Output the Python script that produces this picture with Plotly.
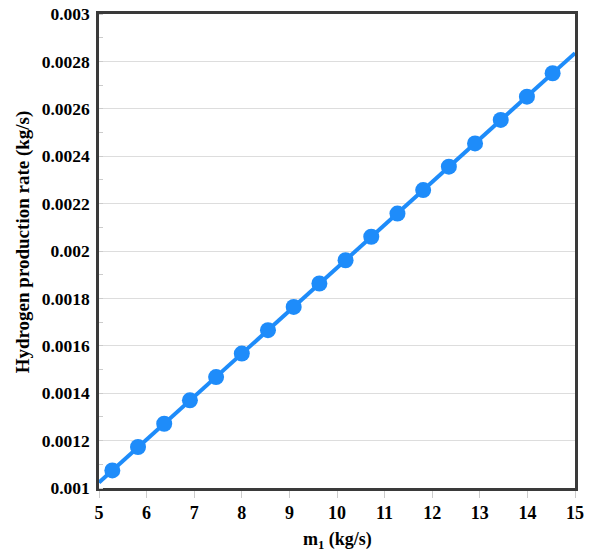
import plotly.graph_objects as go

# Mass flow rate m1 (kg/s) at the computed points
m1 = [5.28, 5.82, 6.37, 6.91, 7.46, 8.00, 8.55, 9.09, 9.63,
      10.18, 10.72, 11.27, 11.81, 12.35, 12.90, 13.44, 13.99, 14.53]
# Hydrogen production rate (kg/s)
h2_rate = [0.001074, 0.001173, 0.001271, 0.001370, 0.001468, 0.001567,
           0.001666, 0.001764, 0.001863, 0.001961, 0.002060, 0.002158,
           0.002257, 0.002356, 0.002454, 0.002553, 0.002651, 0.002750]
# Linear trend across the full m1 range
trend_x = [5, 15]
trend_y = [0.001023, 0.002835]

x_ticks = [5, 6, 7, 8, 9, 10, 11, 12, 13, 14, 15]
y_ticks = [0.001, 0.0012, 0.0014, 0.0016, 0.0018, 0.002,
           0.0022, 0.0024, 0.0026, 0.0028, 0.003]
y_labels = ["0.001", "0.0012", "0.0014", "0.0016", "0.0018", "0.002",
            "0.0022", "0.0024", "0.0026", "0.0028", "0.003"]

blue = "#1E8CFA"
font_family = "Liberation Serif, Times New Roman, serif"

fig = go.Figure()
fig.add_trace(go.Scatter(
    x=trend_x, y=trend_y, mode="lines",
    line=dict(color=blue, width=4), hoverinfo="skip", showlegend=False,
))
fig.add_trace(go.Scatter(
    x=m1, y=h2_rate, mode="markers",
    marker=dict(color=blue, size=16), showlegend=False,
))

fig.update_layout(
    width=596, height=554,
    margin=dict(l=99, r=21, t=14, b=66, autoexpand=False),
    paper_bgcolor="white", plot_bgcolor="white",
    font=dict(family=font_family, size=16, color="black"),
    annotations=[
        dict(text="<b>m<sub>1</sub> (kg/s)</b>", xref="paper", yref="paper",
             x=0.5, y=-0.11, xanchor="center", yanchor="middle",
             showarrow=False, font=dict(family=font_family, size=18)),
        dict(text="<b>Hydrogen production rate (kg/s)</b>", xref="paper",
             yref="paper", x=-0.16, y=0.52, xanchor="center",
             yanchor="middle", textangle=-90, showarrow=False,
             font=dict(family=font_family, size=19)),
    ],
)
fig.update_xaxes(
    range=[5, 15], tickvals=x_ticks, ticktext=[str(v) for v in x_ticks],
    showgrid=False, zeroline=False, automargin=False,
    showline=True, linecolor="#3a3a3a", linewidth=2.5, mirror=True,
    ticks="outside", ticklen=7, tickcolor="#cccccc", tickwidth=1,
    ticklabelstandoff=0,
    tickfont=dict(family=font_family, size=18, color="black", weight="bold"),
)
fig.update_yaxes(
    range=[0.001, 0.003], tickvals=y_ticks, ticktext=y_labels,
    showgrid=True, gridcolor="#dddddd", gridwidth=1, zeroline=False,
    automargin=False,
    showline=True, linecolor="#3a3a3a", linewidth=2.5, mirror=True,
    ticks="", ticklabelstandoff=3,
    minor=dict(dtick=0.0001, ticks="inside", ticklen=4, tickcolor="#cccccc",
               showgrid=False),
    tickfont=dict(family=font_family, size=17.5, color="black", weight="bold"),
)

fig.write_html("out.html")
